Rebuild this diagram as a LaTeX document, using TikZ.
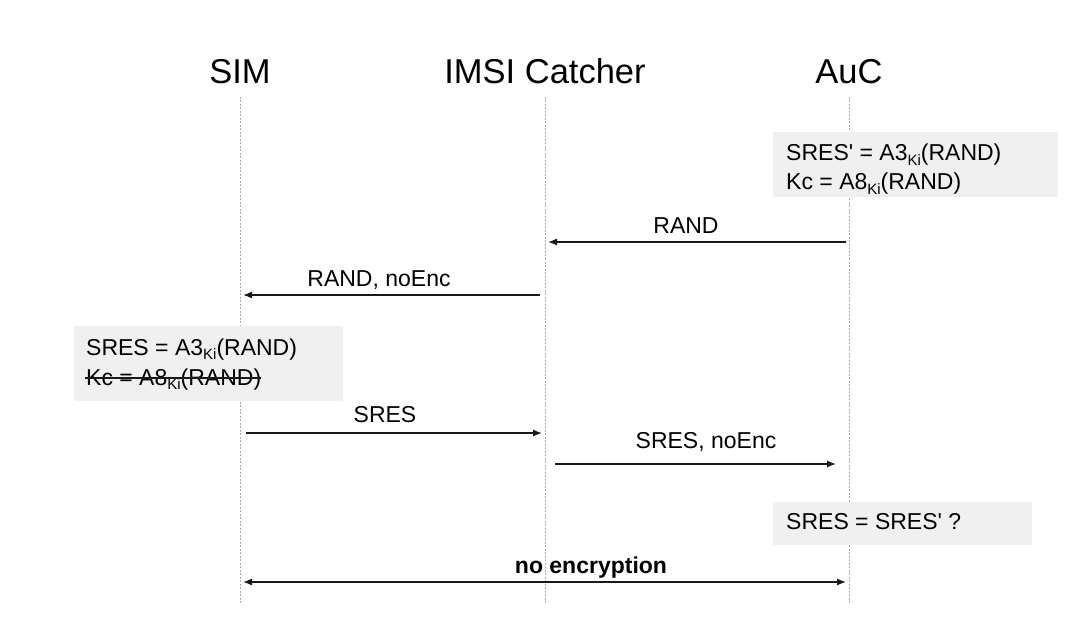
\documentclass[tikz,border=0pt]{standalone}
\usepackage{fontspec}
\setmainfont{Liberation Sans}[Ligatures=TeXOff]
\usetikzlibrary{arrows.meta}
\definecolor{boxgray}{RGB}{240,240,240}
\definecolor{lifegray}{RGB}{170,170,170}
\definecolor{arrowcol}{RGB}{25,25,25}
\newcommand{\ki}{\raisebox{-4.5pt}{\fontsize{15}{15}\selectfont Ki}}
\tikzset{
  header/.style={anchor=base, inner sep=0pt, font=\fontsize{34.5}{40}\selectfont},
  body/.style={anchor=base west, inner sep=0pt, font=\fontsize{23}{28}\selectfont},
  msglabel/.style={anchor=base, inner sep=0pt, font=\fontsize{23}{28}\selectfont},
  notebox/.style={rectangle, fill=boxgray, draw=none, inner sep=0pt},
  lifeline/.style={draw=lifegray, line width=0.7pt, dash pattern=on 2pt off 1.5pt},
  msg/.style={draw=arrowcol, line width=1.3pt, -{Latex[length=9pt,width=7pt]}},
  bimsg/.style={draw=arrowcol, line width=1.3pt, {Latex[length=9pt,width=7pt]}-{Latex[length=9pt,width=7pt]}}
}
\begin{document}
\begin{tikzpicture}[x=1pt,y=-1pt]
\useasboundingbox[fill=white] (0,0) rectangle (1070,620);
% headers
\node[header] (hsim) at (240,84) {SIM};
\node[header] (himsi) at (545,84) {IMSI Catcher};
\node[header] (hauc) at (849,84) {AuC};
% lifelines
\coordinate (simT) at (240,97);  \coordinate (simB) at (240,604);
\coordinate (imsiT) at (545,97); \coordinate (imsiB) at (545,604);
\coordinate (aucT) at (849,97);  \coordinate (aucB) at (849,604);
\draw[lifeline] (simT) -- (simB);
\draw[lifeline] (imsiT) -- (imsiB);
\draw[lifeline] (aucT) -- (aucB);
% AuC box
\node[notebox, minimum width=285pt, minimum height=65pt] (aucbox) at (915.5,164.5) {};
\node[body] (auc1) at (786,161) {SRES' = A3\ki(RAND)};
\node[body] (auc2) at (786,190) {Kc = A8\ki(RAND)};
% RAND
\coordinate (r1s) at (846,242); \coordinate (r1e) at (548,242);
\draw[msg] (r1s) -- (r1e);
\node[msglabel] (lr1) at (686,234) {RAND};
% RAND, noEnc
\coordinate (r2s) at (540,295); \coordinate (r2e) at (243,295);
\draw[msg] (r2s) -- (r2e);
\node[msglabel] (lr2) at (379,286) {RAND, noEnc};
% SIM box
\node[notebox, minimum width=269pt, minimum height=75pt] (simbox) at (208.5,363.5) {};
\node[body] (sim1) at (86,355) {SRES = A3\ki(RAND)};
\node[body] (sim2) at (86,385) {Kc = A8\ki(RAND)};
\draw[arrowcol, line width=1.4pt] ([xshift=-1pt,yshift=7pt]sim2.base west) -- ([yshift=7pt]sim2.base east);
% SRES
\coordinate (s1s) at (246,433); \coordinate (s1e) at (542,433);
\draw[msg] (s1s) -- (s1e);
\node[msglabel] (ls1) at (385,422) {SRES};
% SRES, noEnc
\coordinate (s2s) at (555,464); \coordinate (s2e) at (836,464);
\draw[msg] (s2s) -- (s2e);
\node[msglabel] (ls2) at (706,448) {SRES, noEnc};
% check box
\node[notebox, minimum width=259pt, minimum height=43pt] (chkbox) at (902.5,523.5) {};
\node[body] (chk) at (786,529) {SRES = SRES' ?};
% no encryption
\coordinate (ns) at (243,582); \coordinate (ne) at (846,582);
\draw[bimsg] (ns) -- (ne);
\node[msglabel, font=\fontsize{23}{28}\selectfont\bfseries] (lne) at (591,573) {no encryption};
\end{tikzpicture}
\end{document}
